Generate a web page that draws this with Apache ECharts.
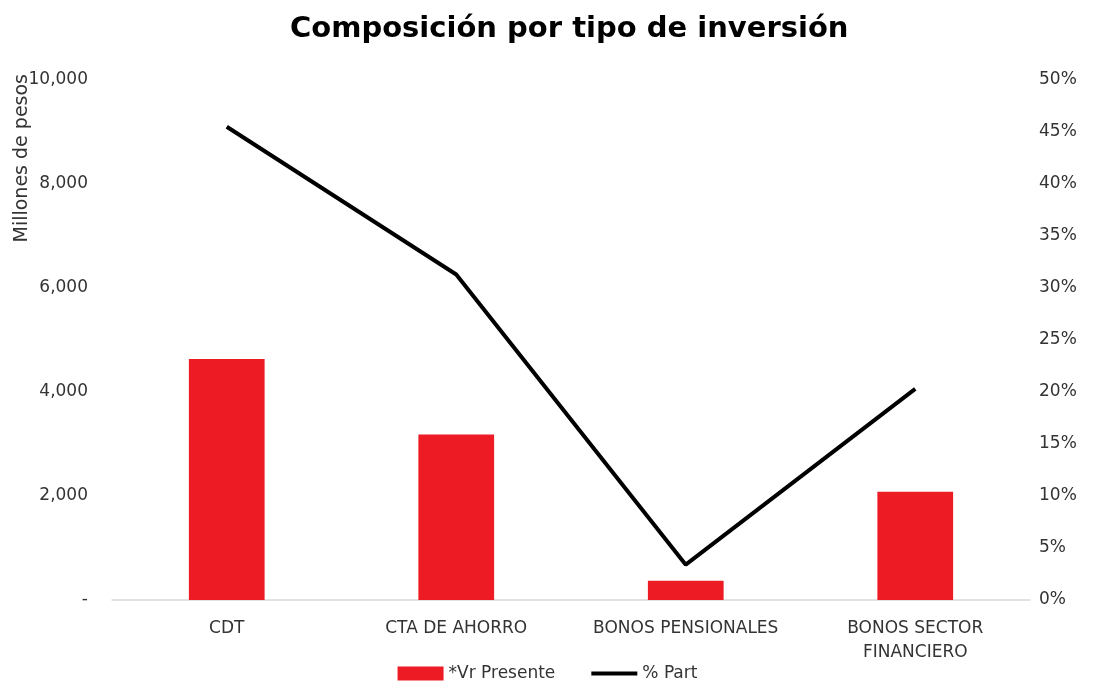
<!DOCTYPE html>
<html>
<head>
<meta charset="utf-8">
<script src="https://cdn.jsdelivr.net/npm/echarts@6/dist/echarts.min.js"></script>
<style>
  html, body { margin: 0; padding: 0; background: #fff; }
  #chart { width: 1095px; height: 687px; }
</style>
</head>
<body>
<div id="chart"></div>
<script>
// datos
var categorias = ['CDT', 'CTA DE AHORRO', 'BONOS PENSIONALES', 'BONOS SECTOR\nFINANCIERO'];
var vrPresente = [4635, 3183, 371, 2083];
var pctPart = [45.5, 31.3, 3.4, 20.3];

var FONT = 'DejaVu Sans';

var myChart = echarts.init(document.getElementById('chart'));

var option = {
    animation: false,
    title: {
        text: 'Composición por tipo de inversión',
        left: 285,
        top: 10,
        textStyle: { fontFamily: FONT, fontSize: 29, fontWeight: 'bold', color: '#000' }
    },
    graphic: [{
        type: 'text',
        x: 22,
        y: 74,
        rotation: Math.PI / 2,
        style: {
            text: 'Millones de pesos',
            fontFamily: FONT,
            fontSize: 19,
            fill: '#333',
            align: 'right',
            verticalAlign: 'middle'
        }
    }],
    legend: {
        bottom: 0,
        left: 'center',
        itemGap: 36,
        textStyle: { fontFamily: FONT, fontSize: 17, color: '#333' },
        data: [
            { name: '*Vr Presente', icon: 'rect', itemStyle: { color: '#ed1c24' } },
            { name: '% Part', icon: 'path://M0,0 L46,0 L46,4 L0,4 Z', itemStyle: { color: '#000' } }
        ],
        itemWidth: 46,
        itemHeight: 14
    },
    grid: { left: 112, right: 65, top: 80, bottom: 87 },
    xAxis: {
        type: 'category',
        data: categorias,
        axisLine: { lineStyle: { color: '#d9d9d9', width: 1.5 } },
        axisTick: { show: false },
        axisLabel: { interval: 0, fontFamily: FONT, fontSize: 17, color: '#333', margin: 17, lineHeight: 24 }
    },
    yAxis: [{
        type: 'value',
        min: 0,
        max: 10000,
        interval: 2000,
        splitLine: { show: false },
        axisLine: { show: false },
        axisTick: { show: false },
        axisLabel: {
            fontFamily: FONT, fontSize: 17, color: '#333', margin: 24,
            formatter: function (v) { return v === 0 ? '-' : v.toLocaleString('en-US'); }
        }
    }, {
        type: 'value',
        min: 0,
        max: 50,
        interval: 5,
        splitLine: { show: false },
        axisLine: { show: false },
        axisTick: { show: false },
        axisLabel: {
            fontFamily: FONT, fontSize: 17, color: '#333', margin: 9,
            formatter: '{value}%'
        }
    }],
    series: [{
        name: '*Vr Presente',
        type: 'bar',
        data: vrPresente,
        barWidth: '33%',
        itemStyle: { color: '#ed1c24' }
    }, {
        name: '% Part',
        type: 'line',
        yAxisIndex: 1,
        data: pctPart,
        symbol: 'none',
        lineStyle: { color: '#000', width: 4 },
        itemStyle: { color: '#000' }
    }]
};

myChart.setOption(option);
</script>
</body>
</html>
